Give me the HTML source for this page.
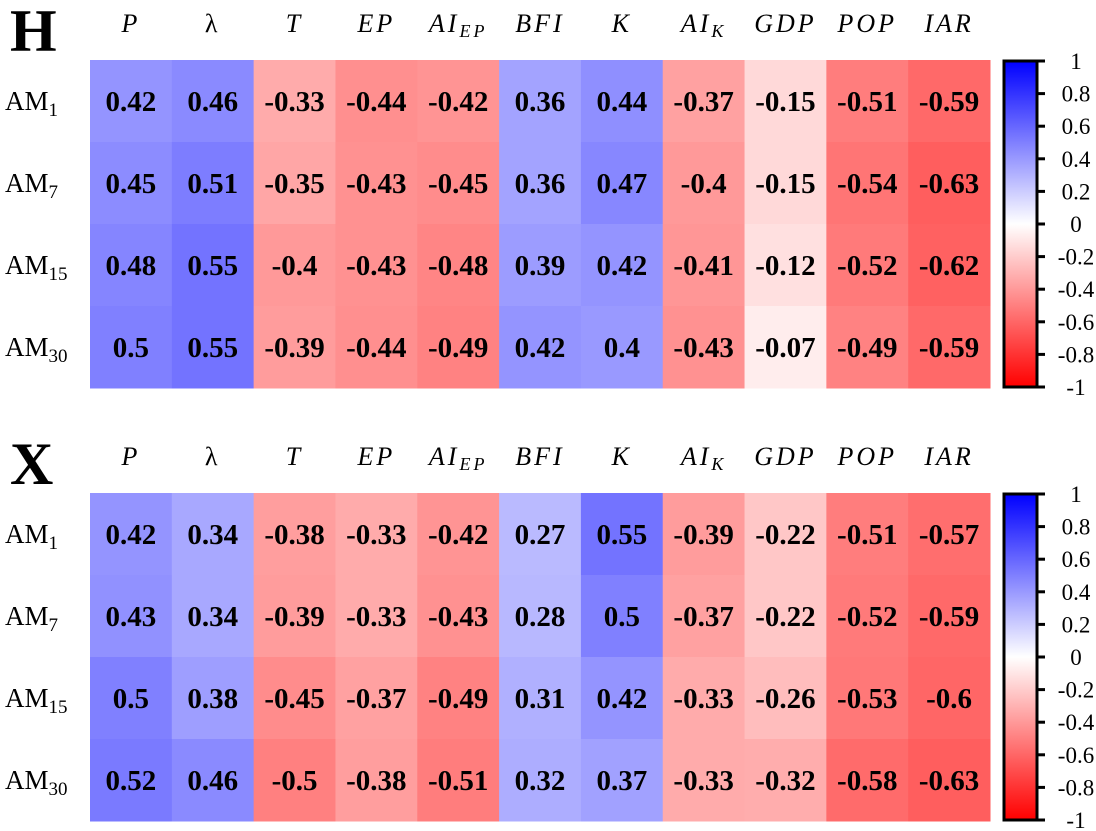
<!DOCTYPE html>
<html><head><meta charset="utf-8"><style>
html,body{margin:0;padding:0;background:#fff;}
svg{display:block;font-family:"Liberation Serif",serif;}
</style></head><body>
<svg id="chart" width="1096" height="831"></svg>
<script>
const columns = ["P","λ","T","EP","AI_EP","BFI","K","AI_K","GDP","POP","IAR"];
const rows = [["AM","1"],["AM","7"],["AM","15"],["AM","30"]];
const valuesH = [
 [0.42,0.46,-0.33,-0.44,-0.42,0.36,0.44,-0.37,-0.15,-0.51,-0.59],
 [0.45,0.51,-0.35,-0.43,-0.45,0.36,0.47,-0.4,-0.15,-0.54,-0.63],
 [0.48,0.55,-0.4,-0.43,-0.48,0.39,0.42,-0.41,-0.12,-0.52,-0.62],
 [0.5,0.55,-0.39,-0.44,-0.49,0.42,0.4,-0.43,-0.07,-0.49,-0.59]
];
const valuesX = [
 [0.42,0.34,-0.38,-0.33,-0.42,0.27,0.55,-0.39,-0.22,-0.51,-0.57],
 [0.43,0.34,-0.39,-0.33,-0.43,0.28,0.5,-0.37,-0.22,-0.52,-0.59],
 [0.5,0.38,-0.45,-0.37,-0.49,0.31,0.42,-0.33,-0.26,-0.53,-0.6],
 [0.52,0.46,-0.5,-0.38,-0.51,0.32,0.37,-0.33,-0.32,-0.58,-0.63]
];
const cbTicks = [1,0.8,0.6,0.4,0.2,0,-0.2,-0.4,-0.6,-0.8,-1];
const cbLabels = ["1","0.8","0.6","0.4","0.2","0","-0.2","-0.4","-0.6","-0.8","-1"];

const NS="http://www.w3.org/2000/svg";
const svg=document.getElementById('chart');
function mk(tag,attrs,parent){const e=document.createElementNS(NS,tag);for(const k in attrs)e.setAttribute(k,attrs[k]);(parent||svg).appendChild(e);return e;}
function color(v){const t=Math.round(255*(1-Math.abs(v)));return v>=0?`rgb(${t},${t},255)`:`rgb(255,${t},${t})`;}
const X0=90,X1=990;
const cw=(X1-X0)/columns.length;
function xScale(i){return X0+i*cw;}

const defs=mk('defs',{});
const lg=mk('linearGradient',{id:'cbg',x1:0,y1:0,x2:0,y2:1},defs);
[[0,'#0000ff'],[0.5,'#ffffff'],[1,'#ff0000']].forEach(s=>mk('stop',{offset:s[0],'stop-color':s[1]},lg));

function panel(letter,vals,top,bottom,headerY,name){
  const g=mk('g',{});
  
  
  const rh=(bottom-top)/rows.length;
  const yScale=r=>top+r*rh;
  const L=mk('text',{x:10,y:headerY+19,'font-size':60,'font-weight':'bold'},g);
  L.textContent=letter;
  
  
  columns.forEach((c,i)=>{
    const t=mk('text',{x:xScale(i)+cw/2,y:headerY,'font-size':26,'font-style':c==='λ'?'normal':'italic','text-anchor':'middle','letter-spacing':'3'},g);
    
    
    const p=c.split('_');
    t.appendChild(document.createTextNode(p[0]));
    if(p[1]){const s=mk('tspan',{'font-size':18,dy:5},t);s.textContent=p[1];}
  });
  rows.forEach((r,ri)=>{
    const t=mk('text',{x:5,y:yScale(ri)+rh/2+9,'font-size':27},g);
    
    
    t.appendChild(document.createTextNode(r[0]));
    const s=mk('tspan',{'font-size':19,dy:6},t);s.textContent=r[1];
    vals[ri].forEach((v,ci)=>{
      const rc=mk('rect',{x:xScale(ci),y:yScale(ri),width:cw+0.5,height:rh+0.5,fill:color(v)},g);
      
      
      const tx=mk('text',{x:xScale(ci)+cw/2,y:yScale(ri)+rh/2+10,'font-size':29,'font-weight':'bold','text-anchor':'middle'},g);
      tx.textContent=String(v);
      
      
    });
  });
  const cb=mk('g',{},g);
  
  
  const cx0=1004,cx1=1037,ct=top+1,cbot=bottom-1;
  mk('rect',{x:cx0,y:ct,width:cx1-cx0,height:cbot-ct,fill:'url(#cbg)',stroke:'#000','stroke-width':3},cb);
  const cy=v=>ct+(1-v)/2*(cbot-ct);
  cbTicks.forEach((v,i)=>{
    mk('line',{x1:cx1,x2:cx1+8,y1:cy(v),y2:cy(v),stroke:'#000','stroke-width':3},cb);
    const t=mk('text',{x:1076,y:cy(v)+8,'font-size':23,'text-anchor':'middle'},cb);
    t.textContent=cbLabels[i];
    
    
  });
}
panel('H',valuesH,60,388,32,'panel-h-heatmap');
panel('X',valuesX,493,821,465,'panel-x-heatmap');
</script>
</body></html>
